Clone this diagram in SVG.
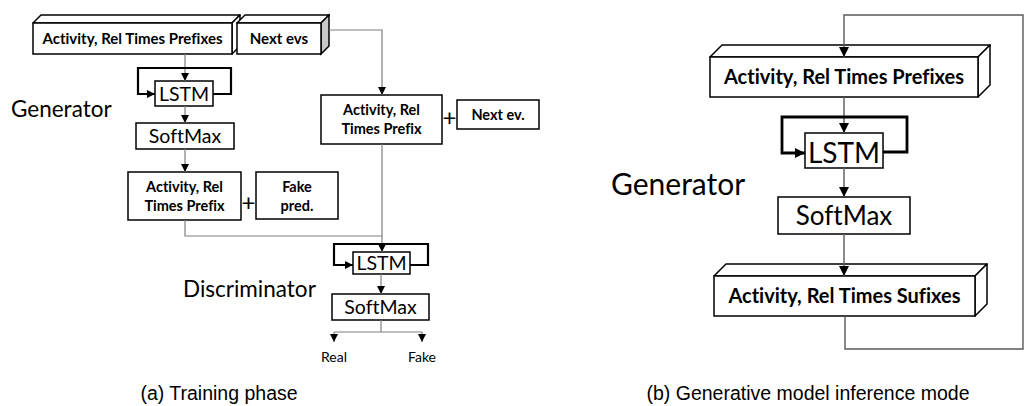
<svg xmlns="http://www.w3.org/2000/svg" width="1026" height="406" viewBox="0 0 1026 406">
<defs>
<style>
.box{fill:#fff;stroke:#000;stroke-width:1.5}
.side{fill:#fff;stroke:#000;stroke-width:1.5;stroke-linejoin:round}
.grey{fill:#c8c8c8;stroke:#000;stroke-width:1.5}
.c{fill:none;stroke:#7f7f7f;stroke-width:1.2}
.cr{fill:none;stroke:#595959;stroke-width:1.4}
.loop{fill:none;stroke:#000;stroke-width:2.2}
.loopr{fill:none;stroke:#000;stroke-width:2.8}
.t{font-family:Lato,"Liberation Sans",sans-serif;fill:#000;font-variant-ligatures:none}
.b{font-family:Lato,"Liberation Sans",sans-serif;font-weight:bold;fill:#000;font-variant-ligatures:none}
.cap{font-family:"Liberation Sans",Arial,sans-serif;fill:#000;font-size:19.5px}
.m{text-anchor:middle}
</style>
<marker id="a" markerUnits="userSpaceOnUse" markerWidth="8" markerHeight="8" refX="8" refY="4" orient="auto"><path d="M0,0 L8,4 L0,8 z" fill="#000"/></marker>
<marker id="ar" markerUnits="userSpaceOnUse" markerWidth="10" markerHeight="10" refX="10" refY="5" orient="auto"><path d="M0,0 L10,5 L0,10 z" fill="#000"/></marker>
</defs>

<!-- LEFT PANEL -->
<g id="gen-prefixes">
<polygon class="side" points="33,23 41,15 240,15 232,23"/>
<polygon class="side" points="232,23 240,15 240,46 232,54"/>
<rect class="box" x="33" y="23" width="199" height="31"/>
<text class="b m" x="132.5" y="44" font-size="15">Activity, Rel Times Prefixes</text>
</g>
<g id="next-evs">
<polygon class="side" points="237,23 245,15 329,15 321,23"/>
<polygon class="grey" points="321,23 329,15 329,46 321,54"/>
<rect class="box" x="237" y="23" width="84" height="31"/>
<text class="b m" x="279" y="44" font-size="15">Next evs</text>
</g>
<text id="generator-label-a" class="t" x="11" y="116.5" font-size="22.5">Generator</text>
<g id="gen-lstm-a">
<rect class="box" x="155" y="81" width="58" height="25"/>
<text class="t m" x="184" y="100.5" font-size="19.5">LSTM</text>
</g>
<g id="gen-softmax-a">
<rect class="box" x="136" y="123" width="98" height="26"/>
<text class="t m" x="185" y="143" font-size="19.5">SoftMax</text>
</g>
<g id="fake-prefix">
<rect class="box" x="128" y="172" width="113" height="48"/>
<text class="b m" x="184.5" y="191.5" font-size="14.5">Activity, Rel</text>
<text class="b m" x="184.5" y="210.5" font-size="14.5">Times Prefix</text>
</g>
<text class="t m" x="248.5" y="211" font-size="24">+</text>
<g id="fake-pred">
<rect class="box" x="256" y="172" width="82" height="47"/>
<text class="b m" x="297" y="191.5" font-size="14.5">Fake</text>
<text class="b m" x="297" y="210.5" font-size="14.5">pred.</text>
</g>
<g id="real-prefix">
<rect class="box" x="321" y="95" width="121" height="49"/>
<text class="b m" x="381.5" y="115" font-size="14.5">Activity, Rel</text>
<text class="b m" x="381.5" y="133.5" font-size="14.5">Times Prefix</text>
</g>
<text class="t m" x="449.5" y="126" font-size="24">+</text>
<g id="next-ev">
<rect class="box" x="457" y="100" width="82" height="29"/>
<text class="b m" x="498" y="120" font-size="14.5">Next ev.</text>
</g>
<text id="disc-label" class="t" x="183" y="296.5" font-size="22.5">Discriminator</text>
<g id="disc-lstm">
<rect class="box" x="353" y="252" width="57" height="22"/>
<text class="t m" x="381.5" y="270" font-size="19.5">LSTM</text>
</g>
<g id="disc-softmax">
<rect class="box" x="332" y="294" width="97" height="26"/>
<text class="t m" x="380.5" y="314" font-size="19.5">SoftMax</text>
</g>
<text class="t m" x="334" y="361.5" font-size="14">Real</text>
<text class="t m" x="422" y="361.5" font-size="14">Fake</text>
<text class="cap m" x="219" y="400">(a) Training phase</text>

<!-- RIGHT PANEL -->
<g id="gen-prefixes-b">
<polygon class="side" points="710,57 722,45 990,45 978,57"/>
<polygon class="side" points="978,57 990,45 990,85 978,97"/>
<rect class="box" x="710" y="57" width="268" height="40"/>
<text class="b m" x="844" y="83.5" font-size="20">Activity, Rel Times Prefixes</text>
</g>
<text id="generator-label-b" class="t" x="611" y="195" font-size="30">Generator</text>
<g id="gen-lstm-b">
<rect class="box" x="805" y="133" width="78" height="35"/>
<text class="t m" x="844" y="162.5" font-size="28">LSTM</text>
</g>
<g id="gen-softmax-b">
<rect class="box" x="778" y="197" width="132" height="37"/>
<text class="t m" x="844" y="225" font-size="26">SoftMax</text>
</g>
<g id="gen-sufixes-b">
<polygon class="side" points="714,276 726,264 987,264 975,276"/>
<polygon class="side" points="975,276 987,264 987,304 975,316"/>
<rect class="box" x="714" y="276" width="261" height="40"/>
<text class="b m" x="844.5" y="302.5" font-size="20">Activity, Rel Times Sufixes</text>
</g>
<text class="cap m" x="808" y="400">(b) Generative model inference mode</text>

<!-- CONNECTORS -->
<g id="connectors">
<path class="c" d="M185,54 V81" marker-end="url(#a)"/>
<path class="loop" d="M213,94 H231 V68 H138 V94 H155" marker-end="url(#a)"/>
<path class="c" d="M185,106 V123" marker-end="url(#a)"/>
<path class="c" d="M185,149 V172" marker-end="url(#a)"/>
<path class="c" d="M329,30 H382 V95" marker-end="url(#a)"/>
<path class="c" d="M185,220 V236 H382"/>
<path class="c" d="M382,144 V252" marker-end="url(#a)"/>
<path class="loop" d="M410,265 H428 V244 H334 V265 H353" marker-end="url(#a)"/>
<path class="c" d="M381,274 V294" marker-end="url(#a)"/>
<path class="c" d="M381,320 V332"/>
<path class="c" d="M334,332 H422"/>
<path class="c" d="M334,332 V342" marker-end="url(#a)"/>
<path class="c" d="M422,332 V342" marker-end="url(#a)"/>
<path class="cr" d="M845,316 V349 H1023 V15 H844 V57" marker-end="url(#ar)"/>
<path class="cr" d="M844,97 V133" marker-end="url(#ar)"/>
<path class="loopr" d="M883,152 H907 V117 H782 V153 H805" marker-end="url(#ar)"/>
<path class="cr" d="M844,168 V197" marker-end="url(#ar)"/>
<path class="cr" d="M844,234 V276" marker-end="url(#ar)"/>
</g>
</svg>
